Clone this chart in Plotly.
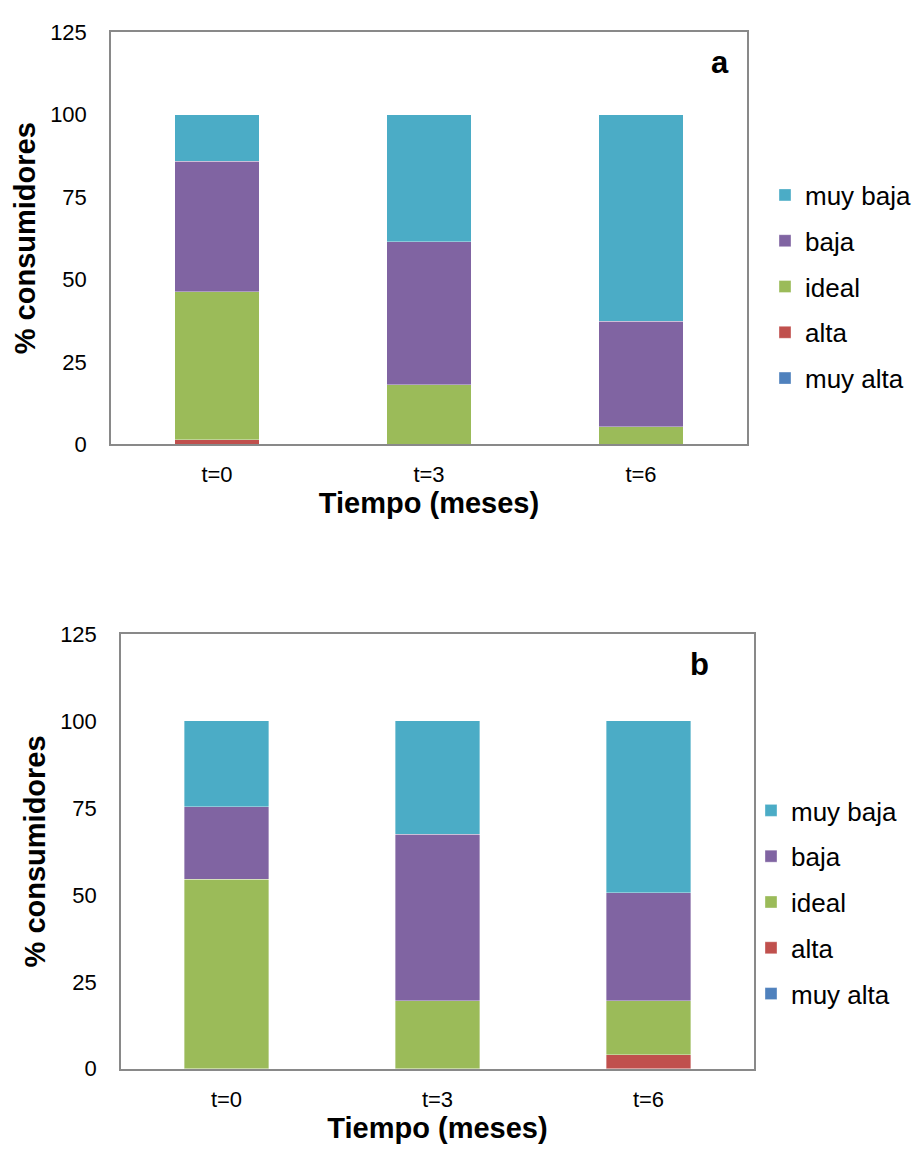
import plotly.graph_objects as go

# Sampling times and sensory categories
tiempos = ["t=0", "t=3", "t=6"]
categorias = ["muy alta", "alta", "ideal", "baja", "muy baja"]
colores = {
    "muy alta": "#4F81BD",
    "alta": "#C0504D",
    "ideal": "#9BBB59",
    "baja": "#8064A2",
    "muy baja": "#4BACC6",
}

# Panel a: % of consumers per category
a_muy_alta = [0.0, 0.0, 0.0]
a_alta = [1.3, 0.0, 0.0]
a_ideal = [44.9, 18.0, 5.3]
a_baja = [39.7, 43.4, 32.0]
a_muy_baja = [14.1, 38.6, 62.7]

# Panel b: % of consumers per category
b_muy_alta = [0.0, 0.0, 0.0]
b_alta = [0.0, 0.0, 4.0]
b_ideal = [54.5, 19.5, 15.5]
b_baja = [20.8, 47.9, 31.1]
b_muy_baja = [24.7, 32.6, 49.4]

y_ticks = [0, 25, 50, 75, 100, 125]

W, H = 917, 1163
FONT = "Liberation Sans, Arial, sans-serif"

panel_a = dict(zip(categorias, [a_muy_alta, a_alta, a_ideal, a_baja, a_muy_baja]))
panel_b = dict(zip(categorias, [b_muy_alta, b_alta, b_ideal, b_baja, b_muy_baja]))

fig = go.Figure()

# stacked bottom-up; legend lists the top segment first
for panel, data, xa_id, ya_id, leg in [("a", panel_a, "x", "y", "legend"),
                                       ("b", panel_b, "x2", "y2", "legend2")]:
    for i, cat in enumerate(categorias):
        fig.add_trace(go.Bar(
            x=tiempos, y=data[cat], name=cat,
            marker=dict(color=colores[cat], line=dict(color="rgba(255,255,255,0.6)", width=0.6)),
            xaxis=xa_id, yaxis=ya_id, legend=leg,
            legendgroup=panel + "_" + cat, legendrank=len(categorias) - i,
        ))


def px_x(v):
    return v / W


def px_y(v):
    return 1 - v / H


axis_line = dict(showline=True, linecolor="#898989", linewidth=1.5, mirror=True,
                 showgrid=False, zeroline=False)

xa = dict(axis_line, ticks="", tickfont=dict(family=FONT, size=22, color="#000"),
          ticklabelstandoff=10,
          title=dict(text="<b>Tiempo (meses)</b>", font=dict(family=FONT, size=29, color="#000"),
                     standoff=6))
ya = dict(axis_line, ticks="", range=[0, 125], tickvals=y_ticks,
          tickfont=dict(family=FONT, size=22, color="#000"), ticklabelstandoff=18,
          title=dict(text="<b>% consumidores</b>", font=dict(family=FONT, size=29, color="#000"),
                     standoff=6))

legend_style = dict(
    font=dict(family=FONT, size=26, color="#000"),
    traceorder="grouped", tracegroupgap=9,
    bgcolor="rgba(0,0,0,0)", itemwidth=30,
    xanchor="left", yanchor="top",
)

fig.update_layout(
    width=W, height=H,
    margin=dict(l=0, r=0, t=0, b=0),
    paper_bgcolor="white", plot_bgcolor="white",
    barmode="stack", bargap=0.6,
    font=dict(family=FONT, color="#000"),
    xaxis=dict(xa, domain=[px_x(111), px_x(747)], anchor="y"),
    yaxis=dict(ya, domain=[px_y(441.7), px_y(20.7)], anchor="x"),
    xaxis2=dict(xa, domain=[px_x(121), px_x(754)], anchor="y2"),
    yaxis2=dict(ya, domain=[px_y(1080), px_y(635.7)], anchor="x2"),
    legend=dict(legend_style, x=px_x(765), y=px_y(163)),
    legend2=dict(legend_style, x=px_x(751), y=px_y(792)),
    annotations=[
        dict(text="<b>a</b>", x=px_x(720), y=px_y(52), xref="paper", yref="paper",
             xanchor="center", yanchor="middle",
             showarrow=False, font=dict(family=FONT, size=31, color="#000")),
        dict(text="<b>b</b>", x=px_x(699), y=px_y(667), xref="paper", yref="paper",
             xanchor="center", yanchor="middle",
             showarrow=False, font=dict(family=FONT, size=31, color="#000")),
    ],
)

fig.write_html("out.html")
